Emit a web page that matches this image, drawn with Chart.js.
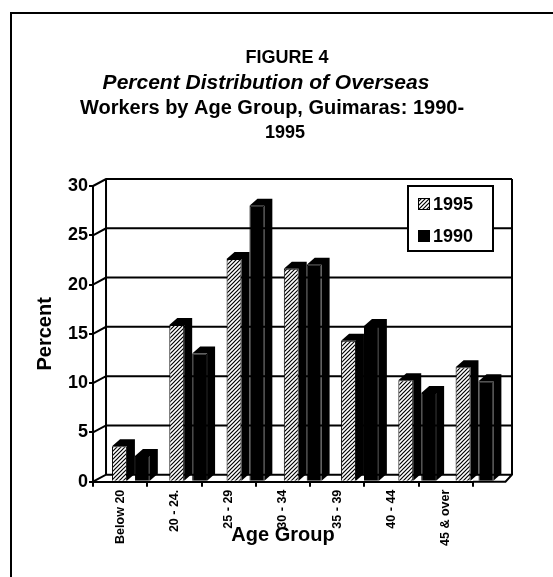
<!DOCTYPE html>
<html>
<head>
<meta charset="utf-8">
<script src="https://cdn.jsdelivr.net/npm/chart.js@4"></script>
<style>
  html, body { margin: 0; padding: 0; background: #fff; }
</style>
</head>
<body>
<canvas id="ofwChart" width="553" height="577"></canvas>
<script>
// data
const ageGroups = ['Below 20', '20 - 24.', '25 - 29', '30 - 34', '35 - 39', '40 - 44', '45 & over'];
const pct1995 = [3.6, 15.9, 22.6, 21.6, 14.3, 10.3, 11.6];
const pct1990 = [2.6, 13.0, 28.0, 22.0, 15.8, 9.0, 10.2];
const seriesNames = ['1995', '1990'];
const percentTicks = { min: 0, max: 30, step: 5 };
const titleLines = [
    'FIGURE 4',
    'Percent Distribution of Overseas',
    'Workers by Age Group, Guimaras: 1990-',
    '1995'
];

const FONT = "'Liberation Sans', Arial, Helvetica, sans-serif";
Chart.defaults.font.family = FONT;
Chart.defaults.font.weight = 'bold';
Chart.defaults.color = '#000';

const canvas = document.getElementById('ofwChart');
const ctx = canvas.getContext('2d');

// diagonal hatch used for the 1995 bars
function makeHatch() {
    const tile = document.createElement('canvas');
    tile.width = 4;
    tile.height = 4;
    const g = tile.getContext('2d');
    g.fillStyle = '#fff';
    g.fillRect(0, 0, 4, 4);
    g.strokeStyle = '#000';
    g.lineWidth = 1.2;
    g.beginPath();
    g.moveTo(-1, 5); g.lineTo(5, -1);
    g.moveTo(-1, 1); g.lineTo(1, -1);
    g.moveTo(3, 5); g.lineTo(5, 3);
    g.stroke();
    return ctx.createPattern(tile, 'repeat');
}
const hatch = makeHatch();

// 3d look: depth of bars and of the back wall
const BAR_DX = 8, BAR_DY = 7;
const WALL_DX = 13, WALL_DY = 7, WALL_RIGHT = 39;

const paperFrame = {
    id: 'paperFrame',
    beforeDraw(chart) {
        const c = chart.ctx;
        c.save();
        c.fillStyle = '#fff';
        c.fillRect(0, 0, chart.width, chart.height);
        c.strokeStyle = '#000';
        c.lineWidth = 2;
        c.beginPath();
        c.moveTo(11, chart.height);
        c.lineTo(11, 13);
        c.lineTo(chart.width, 13);
        c.stroke();
        c.restore();
    }
};

const wall3d = {
    id: 'wall3d',
    beforeDatasetsDraw(chart) {
        const c = chart.ctx;
        const a = chart.chartArea;
        const y = chart.scales.y;
        const backL = a.left + WALL_DX;
        const backR = a.right + WALL_RIGHT;
        c.save();
        c.strokeStyle = '#000';
        c.lineWidth = 2;
        c.beginPath();
        y.ticks.forEach(t => {
            const py = y.getPixelForValue(t.value);
            c.moveTo(a.left, py);
            c.lineTo(backL, py - WALL_DY);
            c.lineTo(backR, py - WALL_DY);
        });
        c.moveTo(backL, a.top - WALL_DY);
        c.lineTo(backL, a.bottom - WALL_DY);
        c.moveTo(backR, a.top - WALL_DY);
        c.lineTo(backR, a.bottom - WALL_DY);
        c.lineTo(backR - WALL_DX / 2, a.bottom);
        c.lineTo(a.right, a.bottom);
        c.stroke();
        c.restore();
    }
};

const barDepth = {
    id: 'barDepth',
    afterDatasetsDraw(chart) {
        const c = chart.ctx;
        c.save();
        c.fillStyle = '#000';
        chart.data.datasets.forEach((ds, di) => {
            chart.getDatasetMeta(di).data.forEach(bar => {
                const { x, y, base, width } = bar.getProps(['x', 'y', 'base', 'width'], true);
                const l = x - width / 2, r = x + width / 2;
                c.beginPath();
                c.moveTo(l, y);
                c.lineTo(l + BAR_DX, y - BAR_DY);
                c.lineTo(r + BAR_DX, y - BAR_DY);
                c.lineTo(r + BAR_DX, base - BAR_DY);
                c.lineTo(r, base);
                c.lineTo(r, y);
                c.closePath();
                c.fill();
            });
        });
        c.restore();
    }
};

// each title line is centred by itself, as in the scan
const titleCentres = [287, 266, 272, 285];
const titleFonts = ['bold 18px ', 'italic bold 21px ', 'bold 20px ', 'bold 18px '];
const figureTitle = {
    id: 'figureTitle',
    afterDraw(chart) {
        const c = chart.ctx;
        c.save();
        c.fillStyle = '#000';
        c.textAlign = 'center';
        c.textBaseline = 'middle';
        titleLines.forEach((line, i) => {
            c.font = titleFonts[i] + FONT;
            c.fillText(line, titleCentres[i], 58 + i * 25);
        });
        c.restore();
    }
};

const boxLegend = {
    id: 'boxLegend',
    afterDraw(chart) {
        const c = chart.ctx;
        const a = chart.chartArea;
        const bx = a.right - 65, by = a.top, bw = 85, bh = 65;
        c.save();
        c.fillStyle = '#fff';
        c.fillRect(bx, by, bw, bh);
        c.strokeStyle = '#000';
        c.lineWidth = 2;
        c.strokeRect(bx, by, bw, bh);
        c.font = 'bold 18px ' + FONT;
        c.textBaseline = 'middle';
        c.textAlign = 'left';
        chart.data.datasets.forEach((ds, i) => {
            const cy = by + 18 + i * 32;
            c.fillStyle = ds.backgroundColor;
            c.fillRect(bx + 10, cy - 6, 12, 12);
            c.lineWidth = 1;
            c.strokeRect(bx + 10.5, cy - 5.5, 11, 11);
            c.fillStyle = '#000';
            c.fillText(ds.label, bx + 25, cy + 1);
        });
        c.restore();
    }
};

const barStyle = {
    xAxisID: 'xb',
    clip: false,
    borderColor: '#000',
    borderWidth: 1,
    barPercentage: 0.65,
    categoryPercentage: 0.8
};

new Chart(ctx, {
    type: 'bar',
    data: {
        labels: ageGroups,
        datasets: [
            Object.assign({
                label: seriesNames[0],
                data: pct1995.map((v, i) => ({ x: i, y: v })),
                backgroundColor: hatch
            }, barStyle),
            Object.assign({
                label: seriesNames[1],
                data: pct1990.map((v, i) => ({ x: i, y: v })),
                backgroundColor: '#000'
            }, barStyle)
        ]
    },
    options: {
        responsive: false,
        animation: false,
        layout: { padding: { top: 186, left: 23, right: 80, bottom: 30 } },
        plugins: {
            legend: { display: false },
            tooltip: { enabled: false },
            title: { display: false }
        },
        scales: {
            x: {
                type: 'category',
                labels: ageGroups,
                offset: true,
                grid: { display: true, offset: true, drawOnChartArea: false, tickLength: 5, color: '#000', lineWidth: 2 },
                border: { color: '#000', width: 2 },
                ticks: { minRotation: 90, maxRotation: 90, autoSkip: false, padding: 3, font: { size: 12.5 } },
                title: { display: true, text: 'Age Group', font: { size: 20 }, padding: { top: -26, bottom: 0 } }
            },
            xb: {
                type: 'linear',
                display: false,
                offset: false,
                min: -0.662,
                max: 5.974,
                ticks: { stepSize: 1, includeBounds: false }
            },
            y: {
                min: percentTicks.min,
                max: percentTicks.max,
                ticks: { stepSize: percentTicks.step, padding: 1, font: { size: 18 } },
                grid: { drawOnChartArea: false, tickLength: 4, color: '#000', lineWidth: 2 },
                border: { color: '#000', width: 2 },
                title: { display: true, text: 'Percent', font: { size: 20 }, padding: 10 }
            }
        }
    },
    plugins: [paperFrame, wall3d, barDepth, figureTitle, boxLegend]
});
</script>
</body>
</html>
